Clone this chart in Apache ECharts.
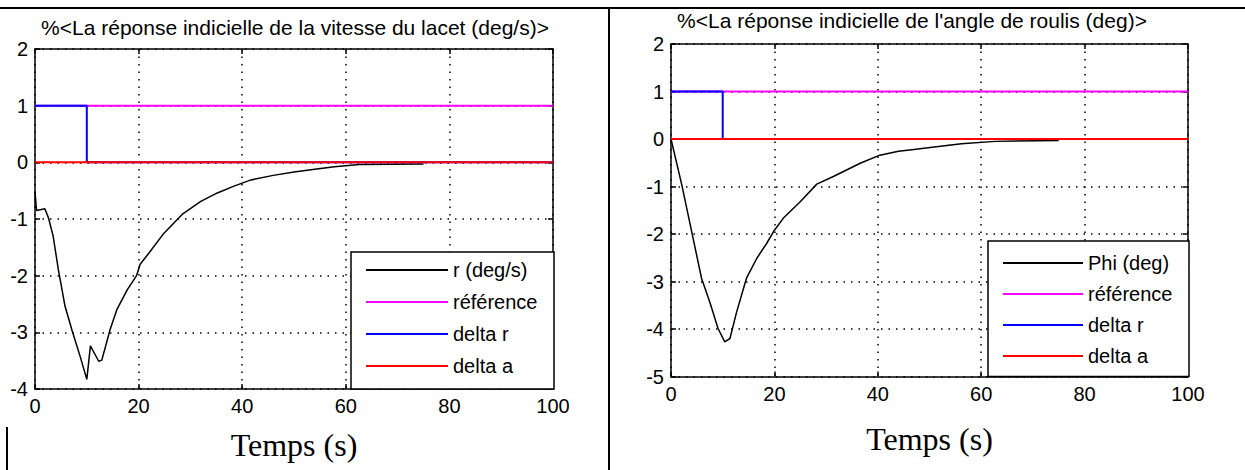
<!DOCTYPE html>
<html>
<head>
<meta charset="utf-8">
<title>Réponses indicielles</title>
<script src="https://cdn.jsdelivr.net/npm/echarts@6/dist/echarts.min.js"></script>
<style>
  html, body { margin: 0; padding: 0; background: #fff; }
  #chart { width: 1245px; height: 470px; }
</style>
</head>
<body>
<div id="chart"></div>
<script>
// temps (s) et valeurs
const timeR = [0, 0.3, 1.9, 2.6, 3.5, 4.5, 5.8, 7.1, 8.7, 10.0, 10.7, 12.3, 12.9, 14.5, 15.8, 17.8, 19.6, 20.3, 22, 24.9, 28.4, 32, 35.2, 38.4, 41.7, 46, 50, 54, 57.8, 62.6, 75];
const rDeg = [-0.52, -0.85, -0.82, -0.98, -1.3, -1.89, -2.54, -2.95, -3.42, -3.83, -3.24, -3.51, -3.49, -2.95, -2.6, -2.25, -2.0, -1.8, -1.6, -1.25, -0.92, -0.69, -0.54, -0.42, -0.31, -0.23, -0.17, -0.12, -0.08, -0.04, -0.03];

const timePhi = [0, 2.1, 4.0, 5.9, 7.5, 9.1, 10.4, 11.4, 12.7, 14.6, 16.6, 18.5, 20, 21.7, 25, 28.2, 31.4, 36.6, 40.4, 44, 47, 51.7, 56.2, 62.7, 75];
const phiDeg = [0, -0.97, -1.95, -2.93, -3.43, -3.99, -4.27, -4.2, -3.64, -2.93, -2.51, -2.2, -1.92, -1.67, -1.32, -0.95, -0.79, -0.51, -0.34, -0.26, -0.22, -0.16, -0.1, -0.05, -0.03];

const refT = [0, 100];
const refV = [1, 1];
const deltaRT = [0, 10, 10, 100];
const deltaRV = [1, 1, 0, 0];
const deltaAT = [0, 100];
const deltaAV = [0, 0];

const xMin = 0, xMax = 100, xStep = 20;
const yMinR = -4, yMinPhi = -5, yMax = 2, yStep = 1;

const titleR = '%<La réponse indicielle de la vitesse du lacet (deg/s)>';
const titlePhi = "%<La réponse indicielle de l'angle de roulis (deg)>";
const legendR = ['r (deg/s)', 'référence', 'delta r', 'delta a'];
const legendPhi = ['Phi (deg)', 'référence', 'delta r', 'delta a'];

const sans = "'Liberation Sans', Arial, sans-serif";
const serif = "'Liberation Serif', 'Times New Roman', serif";

const pairs = (xs, ys) => xs.map((x, i) => [x, ys[i]]);

const chart = echarts.init(document.getElementById('chart'), null, { renderer: 'svg' });

function xAxes(gridIndex, nameGap) {
  const base = {
    gridIndex,
    type: 'value',
    min: xMin,
    max: xMax,
    interval: xStep,
    axisLine: { show: true, onZero: false, lineStyle: { color: '#000', width: 1.5 } },
    axisTick: { show: true, inside: true, length: 5, lineStyle: { color: '#000', width: 1.5 } },
  };
  return [
    Object.assign({}, base, {
      position: 'bottom',
      name: 'Temps (s)',
      nameLocation: 'middle',
      nameGap,
      nameTextStyle: { fontFamily: serif, fontSize: 32, color: '#000' },
      axisLabel: { fontFamily: sans, fontSize: 20, color: '#000', margin: 7 },
      splitLine: { show: true, lineStyle: { color: '#000', width: 1.5, type: [1.5, 6] } },
    }),
    Object.assign({}, base, {
      position: 'top',
      axisLabel: { show: false },
      splitLine: { show: false },
    }),
  ];
}

function yAxes(gridIndex, yMin) {
  const base = {
    gridIndex,
    type: 'value',
    min: yMin,
    max: yMax,
    interval: yStep,
    axisLine: { show: true, onZero: false, lineStyle: { color: '#000', width: 1.5 } },
    axisTick: { show: true, inside: true, length: 5, lineStyle: { color: '#000', width: 1.5 } },
  };
  return [
    Object.assign({}, base, {
      position: 'left',
      axisLabel: { fontFamily: sans, fontSize: 20, color: '#000', margin: 7 },
      splitLine: { show: true, lineStyle: { color: '#000', width: 1.5, type: [1.5, 6] } },
    }),
    Object.assign({}, base, {
      position: 'right',
      axisLabel: { show: false },
      splitLine: { show: false },
    }),
  ];
}

function legend(data, left, top, padding, itemGap, itemWidth) {
  return {
    data,
    orient: 'vertical',
    left,
    top,
    padding,
    itemGap,
    itemWidth,
    itemHeight: 2,
    icon: 'rect',
    selectedMode: false,
    backgroundColor: '#fff',
    borderColor: '#000',
    borderWidth: 1.5,
    borderRadius: 0,
    textStyle: { fontFamily: sans, fontSize: 20, color: '#000', width: 92, lineHeight: 20 },
  };
}

function lineSeries(name, data, color, axis, width) {
  return {
    name,
    type: 'line',
    xAxisIndex: axis,
    yAxisIndex: axis,
    data,
    symbol: 'none',
    color,
    lineStyle: { color, width },
  };
}

const options = {
  animation: false,
  grid: [
    { left: 35, top: 49, width: 518, height: 340 },
    { left: 671, top: 44, width: 517, height: 332.5 },
  ],
  xAxis: [...xAxes(0, 40), ...xAxes(1, 46)],
  yAxis: [...yAxes(0, yMinR), ...yAxes(1, yMinPhi)],
  legend: [
    legend(legendR, 351, 252, [8, 9, 13, 15], 12, 82),
    legend(legendPhi, 988, 241, [12, 9, 10.5, 15], 11, 80),
  ],
  series: [
    lineSeries('r (deg/s)', pairs(timeR, rDeg), '#000', 0, 1.5),
    lineSeries('référence', pairs(refT, refV), '#ff00ff', 0, 2),
    lineSeries('delta r', pairs(deltaRT, deltaRV), '#0000ff', 0, 2),
    lineSeries('delta a', pairs(deltaAT, deltaAV), '#ff0000', 0, 2),
    lineSeries('Phi (deg)', pairs(timePhi, phiDeg), '#000', 2, 1.5),
    lineSeries('référence', pairs(refT, refV), '#ff00ff', 2, 2),
    lineSeries('delta r', pairs(deltaRT, deltaRV), '#0000ff', 2, 2),
    lineSeries('delta a', pairs(deltaAT, deltaAV), '#ff0000', 2, 2),
  ],
  graphic: [
    // bordures du tableau
    { type: 'line', shape: { x1: 0, y1: 8, x2: 1245, y2: 8 }, style: { stroke: '#000', lineWidth: 2 } },
    { type: 'line', shape: { x1: 609, y1: 8, x2: 609, y2: 470 }, style: { stroke: '#000', lineWidth: 2 } },
    { type: 'line', shape: { x1: 7, y1: 427, x2: 7, y2: 470 }, style: { stroke: '#000', lineWidth: 2 } },
    {
      type: 'text', x: 295, y: 27,
      style: { text: titleR, align: 'center', verticalAlign: 'middle', font: '21px ' + sans, fill: '#000' },
    },
    {
      type: 'text', x: 912, y: 20,
      style: { text: titlePhi, align: 'center', verticalAlign: 'middle', font: '21px ' + sans, fill: '#000' },
    },
  ],
};

chart.setOption(options);
</script>
</body>
</html>
